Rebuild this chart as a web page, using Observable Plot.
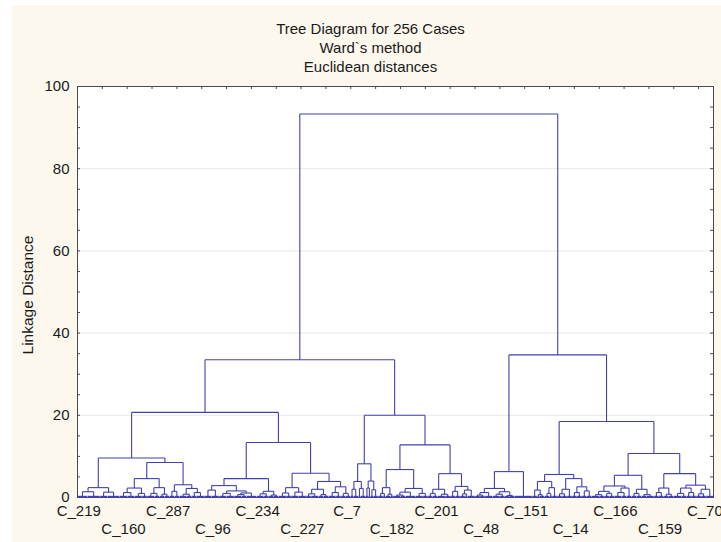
<!DOCTYPE html>
<html>
<head>
<meta charset="utf-8">
<script src="https://cdn.jsdelivr.net/npm/d3@7"></script>
<script src="https://cdn.jsdelivr.net/npm/@observablehq/plot@0.6"></script>
<style>
  html, body { margin: 0; padding: 0; background: #fcf8ee; width: 721px; height: 542px; overflow: hidden; }
  #stripL { position: absolute; left: 0; top: 0; width: 12px; height: 542px; background: #ffffff; z-index: 5; }
  #stripT { position: absolute; left: 0; top: 0; width: 721px; height: 5px; background: #ffffff; z-index: 5; }
  #title { height: 57px; padding-top: 19px; padding-left: 20px; text-align: center;
           font-family: "Liberation Sans", Arial, sans-serif; font-size: 15px; line-height: 19px; color: #1a1a1a; }
  #chart svg { display: block; }
</style>
</head>
<body>
<div id="stripL"></div>
<div id="stripT"></div>
<div id="title"></div>
<div id="chart"></div>
<script>
// ---- data ----
const titleLines = ["Tree Diagram for 256 Cases", "Ward`s method", "Euclidean distances"];
const yLabel = "Linkage Distance";
const yTicks = [0, 20, 40, 60, 80, 100];
const yGrid = [20, 40, 60, 80];
const yMinorTicks = [5, 10, 15, 20, 25, 30, 35, 40, 45, 50, 55, 60, 65, 70, 75, 80, 85, 90, 95];
const leafCount = 256;
const leafLabels = ["C_219", "C_160", "C_287", "C_96", "C_234", "C_227", "C_7", "C_182",
                    "C_201", "C_48", "C_151", "C_14", "C_166", "C_159", "C_70"];
const leafLabelPositions = [0, 18, 36, 54, 72, 90, 108, 126, 144, 162, 180, 198, 216, 234, 252];
const topTickLeaves = [10, 20, 30, 40, 50, 60, 70, 80, 90, 100, 110, 120, 130, 140, 150, 160,
                       170, 180, 190, 200, 210, 220, 230, 240, 250];

// tree nodes: [linkage height, left, right]; an integer = that many cases joined at ~0
const clusterLLa = [9.6,
  [2.4, [1.4, 4, 5], [1.3, 3, 5]],
  [8.5,
    [4.6, [2.3, [1.2, 3, 3], [1.0, 3, 2]], [2.4, [1.0, 3, 2], [0.8, 2, 2]]],
    [3.1, [1.5, 2, 2], [2.2, [0.8, 3, 2], [1.2, 2, 3]]]]];
const clusterLLb = [13.4,
  [4.6,
    [2.9, [1.8, 3, 3], [1.6, [1.0, 3, 3], [1.1, [0.7, 3, 2], 4]]],
    [1.5, [0.9, 3, 2], [0.6, 2, 2]]],
  [5.9,
    [2.4, [1.1, 3, 2], [1.3, 3, 3]],
    [3.9, [2.0, [0.9, 2, 3], [0.7, 2, 2]], [2.6, [1.2, 3, 2], [1.0, 2, 2]]]]];
const clusterLR = [20.0,
  [8.2, [3.9, [2.0, 1, 2], [2.2, 1, 2]], [4.0, [2.3, 1, 1], [1.9, 1, 2]]],
  [12.8,
    [6.8, [2.4, [1.0, 2, 1], [0.8, 2, 1]], [2.2, [1.3, [0.6, 3, 2], 4], [1.0, 3, 2]]],
    [5.8, [2.0, [1.0, 2, 2], [0.8, 3, 2]], [2.7, [1.5, 2, 2], [1.8, [0.9, 2, 1], 3]]]]];
const clusterRL = [6.3,
  [2.2, [1.2, [0.6, 2, 2], 3], [1.4, [0.8, 3, 2], [0.5, 2, 2]]],
  7];
const clusterRR = [18.5,
  [5.6,
    [3.9, [1.8, 2, [0.7, 1, 2]], [2.4, [1.0, 2, 1], 2]],
    [4.6, [2.0, [0.9, 2, 2], 2], [2.6, [1.2, 2, 2], [1.6, 2, 2]]]],
  [10.7,
    [5.4,
      [2.8, [1.5, [0.7, 3, 2], [1.0, 2, 2]], [2.3, [1.2, 3, 2], 2]],
      [2.0, [1.0, 2, 2], [0.7, 2, 3]]],
    [5.8,
      [2.3, [1.2, 2, 2], [0.8, 2, 2]],
      [3.0, [2.3, [1.0, 3, 2], [1.2, 2, 2]], [2.0, [0.9, 2, 2], 3]]]]];
const heightLL = 20.7, heightLeft = 33.5, heightRight = 34.7, heightRoot = 93.3;

const tree = [heightRoot,
  [heightLeft, [heightLL, clusterLLa, clusterLLb], clusterLR],
  [heightRight, clusterRL, clusterRR]];

// ---- layout (leaf order → x, linkage → y) ----
const segs = [];
const baseSegs = [];
let nextLeaf = 0;
function lay(node) {
  if (typeof node === "number") {
    const s = nextLeaf; nextLeaf += node;
    baseSegs.push({x1: s + 0.1, x2: s + node - 0.1, y1: 0, y2: 0});
    return {x: s + node / 2, h: 0};
  }
  const [h, a, b] = node;
  const A = lay(a), B = lay(b);
  segs.push({x1: A.x, x2: A.x, y1: A.h, y2: h});
  segs.push({x1: B.x, x2: B.x, y1: B.h, y2: h});
  segs.push({x1: A.x, x2: B.x, y1: h, y2: h});
  return {x: (A.x + B.x) / 2, h};
}
lay(tree);

document.getElementById("title").innerHTML = titleLines.map(t => `<div>${t}</div>`).join("");

const W = 721, H = 466, mL = 77, mR = 8, mT = 10, mB = 45;
const innerW = W - mL - mR, innerH = H - mT - mB;
const ink = "#1a1a1a", linkColor = "#4040b2", axisColor = "#4a4a4a";
const font = "Liberation Sans, Arial, sans-serif";

const evenLabels = leafLabels.map((t, i) => ({t, p: leafLabelPositions[i], i})).filter(d => d.i % 2 === 0);
const oddLabels = leafLabels.map((t, i) => ({t, p: leafLabelPositions[i], i})).filter(d => d.i % 2 === 1);

const chart = Plot.plot({
  width: W, height: H,
  marginLeft: mL, marginRight: mR, marginTop: mT, marginBottom: mB,
  style: {background: "transparent", fontFamily: font, fontSize: "15px", color: ink},
  x: {domain: [0, leafCount], axis: null},
  y: {domain: [0, 100], axis: null},
  marks: [
    Plot.frame({fill: "white", stroke: null}),
    Plot.ruleY(yGrid, {stroke: "#e8e8e8", strokeWidth: 1}),
    Plot.frame({stroke: axisColor, strokeWidth: 1}),
    Plot.tickY(yMinorTicks, {y: d => d, stroke: axisColor, insetRight: innerW - 3}),
    Plot.tickY(yMinorTicks, {y: d => d, stroke: axisColor, insetLeft: innerW - 3}),
    Plot.tickX(topTickLeaves, {x: d => d, stroke: axisColor, insetBottom: innerH - 3}),
    Plot.link(baseSegs, {x1: "x1", y1: "y1", x2: "x2", y2: "y2", stroke: linkColor, strokeWidth: 2.2, dy: -0.6}),
    Plot.link(segs, {x1: "x1", y1: "y1", x2: "x2", y2: "y2", stroke: linkColor, strokeWidth: 1.1}),
    Plot.text(yTicks, {y: d => d, frameAnchor: "left", dx: -8, textAnchor: "end", text: d => String(d), fill: ink, fontSize: 15}),
    Plot.text([yLabel], {frameAnchor: "left", dx: -49, dy: 3, rotate: -90, textAnchor: "middle", text: d => d, fill: ink, fontSize: 15.5}),
    Plot.text(evenLabels, {x: d => d.p + 0.5, frameAnchor: "bottom", dy: 18, text: "t", fill: ink, fontSize: 15}),
    Plot.text(oddLabels, {x: d => d.p + 0.5, frameAnchor: "bottom", dy: 36, text: "t", fill: ink, fontSize: 15})
  ]
});
document.getElementById("chart").appendChild(chart);
</script>
</body>
</html>
